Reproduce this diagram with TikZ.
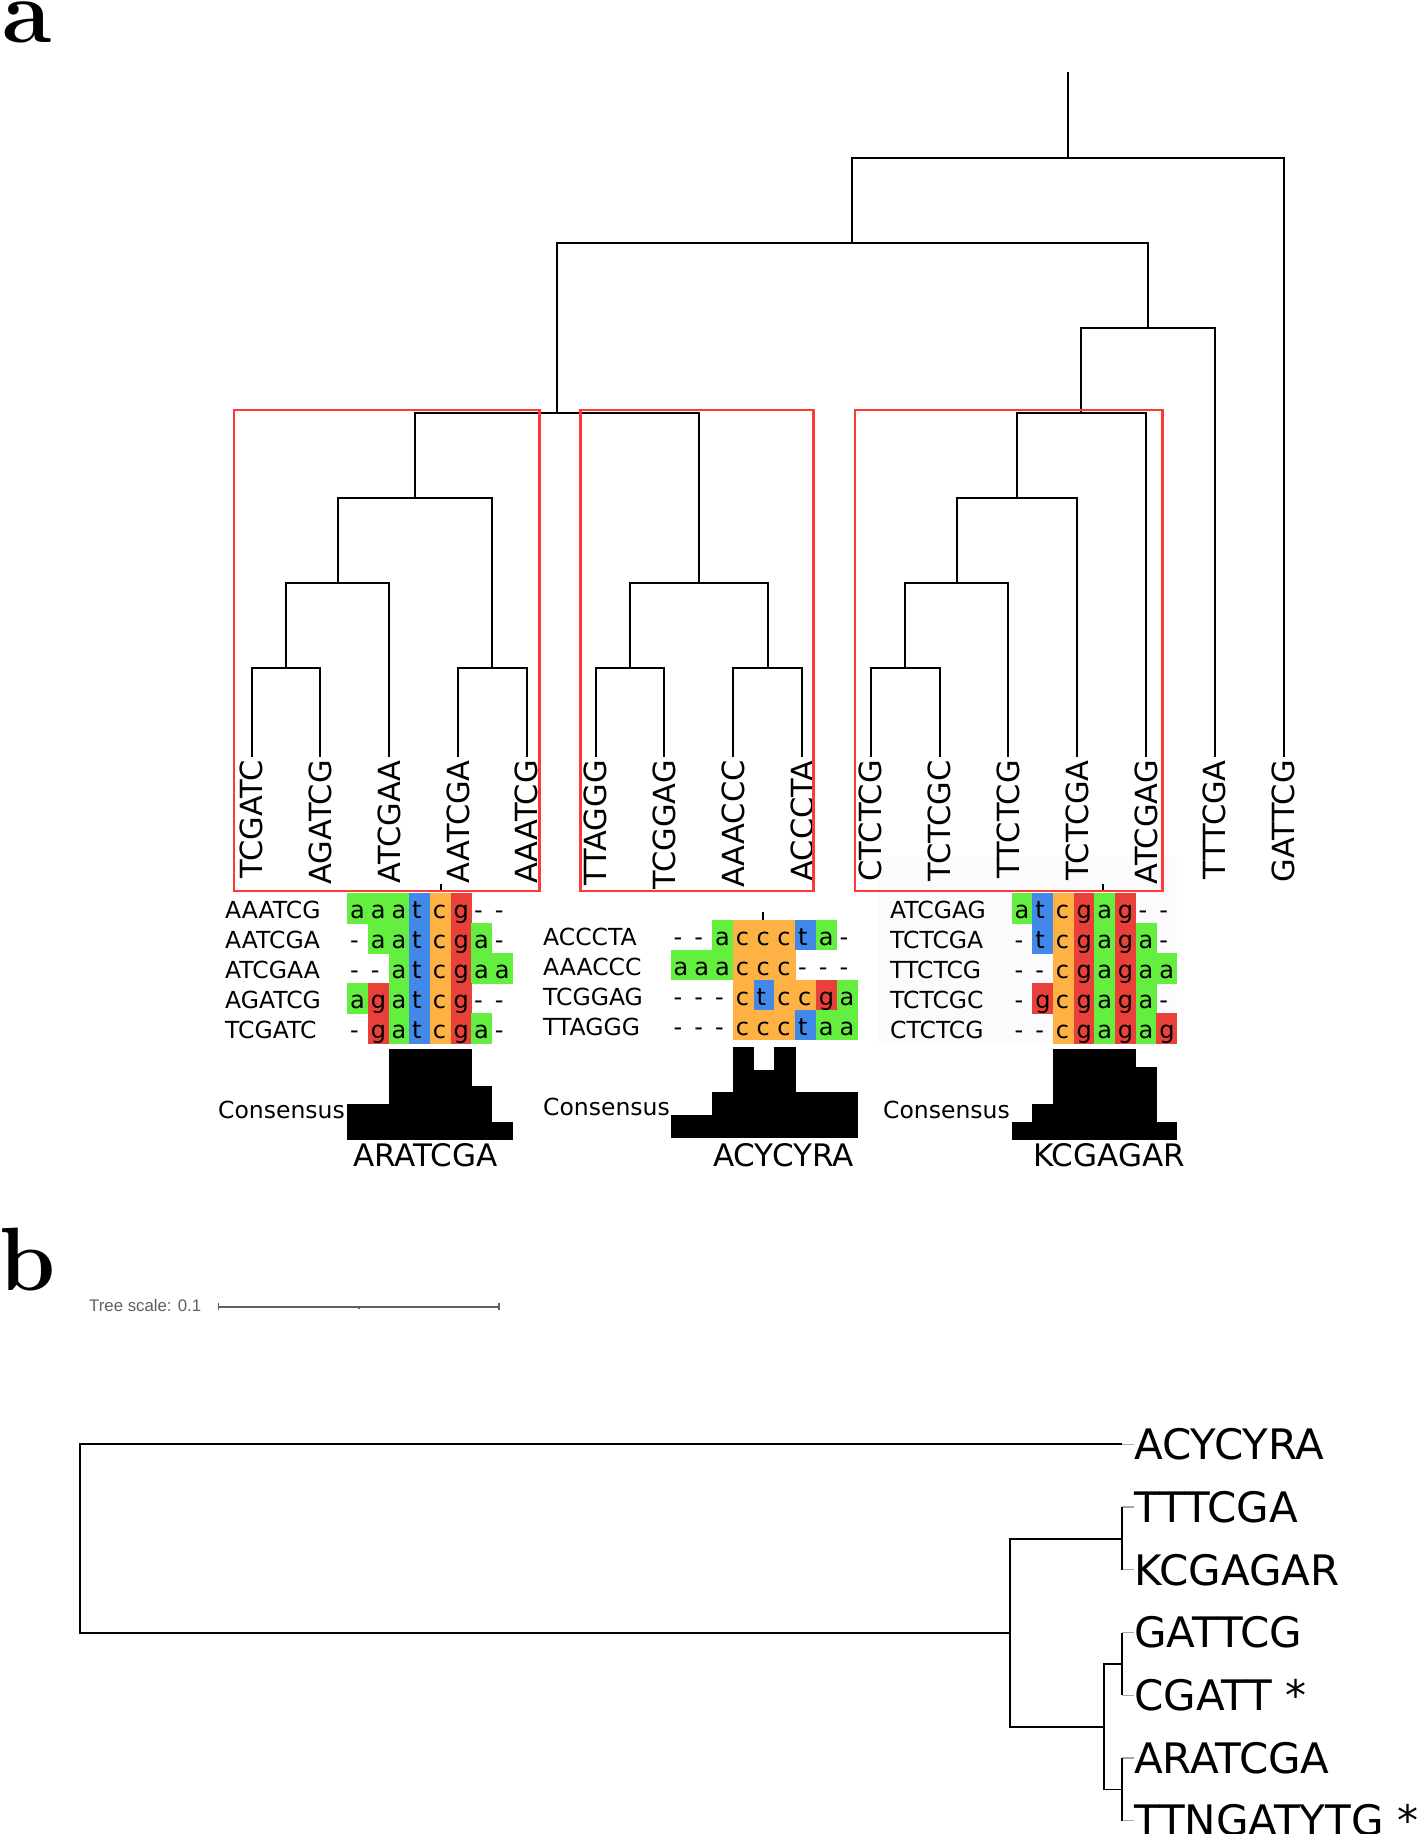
\documentclass[tikz,border=0pt]{standalone}
\usepackage{fontspec}
\usepackage{xcolor}
\newfontfamily\seqfont{DejaVu Sans}
\newfontfamily\itolfont{Liberation Sans}

\definecolor{nucA}{RGB}{100,238,64}
\definecolor{nucT}{RGB}{66,136,232}
\definecolor{nucC}{RGB}{255,178,68}
\definecolor{nucG}{RGB}{234,64,58}
\definecolor{boxred}{RGB}{255,56,56}
\definecolor{scalegray}{RGB}{95,95,95}
\definecolor{faint}{RGB}{251,251,253}

\tikzset{
	branch/.style={line width=2pt,black},
	redbox/.style={line width=2.5pt,boxred},
	leaf/.style={font=\seqfont\fontsize{30.5}{36}\selectfont,rotate=90,anchor=east,inner sep=0pt},
	seqname/.style={font=\seqfont\fontsize{23.5}{28}\selectfont,anchor=base west,inner sep=0pt},
	nuc/.style={font=\seqfont\fontsize{24}{28}\selectfont,anchor=base west,inner sep=0pt},
	consseq/.style={font=\seqfont\fontsize{31}{36}\selectfont,anchor=base west,inner sep=0pt},
	bleaf/.style={font=\seqfont\fontsize{42}{48}\selectfont,anchor=west,inner sep=0pt},
	stub/.style={line width=1.2pt,black!35},
	panel/.style={font=\fontsize{90}{100}\selectfont\bfseries,anchor=base west,inner sep=0pt},
	cellA/.style={fill=nucA},
	cellT/.style={fill=nucT},
	cellC/.style={fill=nucC},
	cellG/.style={fill=nucG},
	cellN/.style={},
}

\begin{document}
\begin{tikzpicture}[x=1pt,y=-1pt]
%	\draw[help lines, color=black!30, step=100pt,ultra thin](0,0)grid(1418,1834);
	\useasboundingbox (0,0) rectangle (1418,1834);
	
	\node[panel] (pa) at (2,42.5) {a};
	\node[panel] (pb) at (-1,1290) {b};
	
	% tree of part a
	\fill[faint] (878,857) rectangle (1177,1043);
	
	\foreach \nm [count=\i from 0] in {TCGATC,AGATCG,ATCGAA,AATCGA,AAATCG,TTAGGG,TCGGAG,AAACCC,ACCCTA,CTCTCG,TCTCGC,TTCTCG,TCTCGA,ATCGAG,TTTCGA,GATTCG}{
		\coordinate (t\i) at (251.5+68.8*\i,757);
		\node[leaf] (lf\i) at (251.5+68.8*\i,760) {\nm};
	}
	
	\coordinate (c1a) at (285.9,667.7);
	\coordinate (c1b) at (337.5,582.7);
	\coordinate (c1c) at (492.3,667.7);
	\coordinate (c1) at (414.9,497.7);
	\coordinate (c2a) at (629.9,667.7);
	\coordinate (c2b) at (767.5,667.7);
	\coordinate (c2) at (698.7,582.7);
	\coordinate (n12) at (556.8,412.7);
	\coordinate (c3a) at (905.1,667.7);
	\coordinate (c3b) at (956.7,582.7);
	\coordinate (c3c) at (1016.9,497.7);
	\coordinate (c3) at (1081.4,412.7);
	\coordinate (n3t) at (1148,327.7);
	\coordinate (nA) at (852.4,242.7);
	\coordinate (root) at (1068,157.7);
	\coordinate (rtop) at (1068,72);
	
	\draw[branch] (t0) |- (c1a) -| (t1);
	\draw[branch] (c1a) |- (c1b) -| (t2);
	\draw[branch] (t3) |- (c1c) -| (t4);
	\draw[branch] (c1b) |- (c1) -| (c1c);
	\draw[branch] (t5) |- (c2a) -| (t6);
	\draw[branch] (t7) |- (c2b) -| (t8);
	\draw[branch] (c2a) |- (c2) -| (c2b);
	\draw[branch] (c1) |- (n12) -| (c2);
	\draw[branch] (t9) |- (c3a) -| (t10);
	\draw[branch] (c3a) |- (c3b) -| (t11);
	\draw[branch] (c3b) |- (c3c) -| (t12);
	\draw[branch] (c3c) |- (c3) -| (t13);
	\draw[branch] (c3) |- (n3t) -| (t14);
	\draw[branch] (n12) |- (nA) -| (n3t);
	\draw[branch] (nA) |- (root) -| (t15);
	\draw[branch] (root) -- (rtop);
	
	\draw[redbox] (234,410) rectangle (539.3,891);
	\draw[redbox] (580.7,410) rectangle (813.3,891);
	\draw[redbox] (855,410) rectangle (1162.7,891);
	
	% alignments
	\begin{scope}[shift={(347.3,893.3)}]
		\foreach \row [count=\r from 0] in {
			{A/a,A/a,A/a,T/t,C/c,G/g,N/-,N/-},
			{N/-,A/a,A/a,T/t,C/c,G/g,A/a,N/-},
			{N/-,N/-,A/a,T/t,C/c,G/g,A/a,A/a},
			{A/a,G/g,A/a,T/t,C/c,G/g,N/-,N/-},
			{N/-,G/g,A/a,T/t,C/c,G/g,A/a,N/-}}
			\foreach \cl/\ch [count=\k from 0] in \row {
				\path[cell\cl] (20.67*\k,30*\r) rectangle ++(20.97,30.3);
				\node[nuc] (sa-\r-\k) at (20.67*\k+2.7,30*\r+25) {\ch};
			}
	\end{scope}
	\foreach \nm [count=\r from 0] in {AAATCG,AATCGA,ATCGAA,AGATCG,TCGATC}
		\node[seqname] (na\r) at (225,918.3+30*\r) {\nm};
	
	\begin{scope}[shift={(670.7,920)}]
		\foreach \row [count=\r from 0] in {
			{N/-,N/-,A/a,C/c,C/c,C/c,T/t,A/a,N/-},
			{A/a,A/a,A/a,C/c,C/c,C/c,N/-,N/-,N/-},
			{N/-,N/-,N/-,C/c,T/t,C/c,C/c,G/g,A/a},
			{N/-,N/-,N/-,C/c,C/c,C/c,T/t,A/a,A/a}}
			\foreach \cl/\ch [count=\k from 0] in \row {
				\path[cell\cl] (20.75*\k,30*\r) rectangle ++(21.05,30.3);
				\node[nuc] (sb-\r-\k) at (20.75*\k+2.7,30*\r+25) {\ch};
			}
	\end{scope}
	\foreach \nm [count=\r from 0] in {ACCCTA,AAACCC,TCGGAG,TTAGGG}
		\node[seqname] (nb\r) at (543,945+30*\r) {\nm};
	
	\begin{scope}[shift={(1011.7,893.3)}]
		\foreach \row [count=\r from 0] in {
			{A/a,T/t,C/c,G/g,A/a,G/g,N/-,N/-},
			{N/-,T/t,C/c,G/g,A/a,G/g,A/a,N/-},
			{N/-,N/-,C/c,G/g,A/a,G/g,A/a,A/a},
			{N/-,G/g,C/c,G/g,A/a,G/g,A/a,N/-},
			{N/-,N/-,C/c,G/g,A/a,G/g,A/a,G/g}}
			\foreach \cl/\ch [count=\k from 0] in \row {
				\path[cell\cl] (20.67*\k,30*\r) rectangle ++(20.97,30.3);
				\node[nuc] (sc-\r-\k) at (20.67*\k+2.7,30*\r+25) {\ch};
			}
	\end{scope}
	\foreach \nm [count=\r from 0] in {ATCGAG,TCTCGA,TTCTCG,TCTCGC,CTCTCG}
		\node[seqname] (nc\r) at (890,918.3+30*\r) {\nm};
	
	\draw[branch] (440.5,884) -- (440.5,890);
	\draw[branch] (763,912) -- (763,920);
	\draw[branch] (1103.3,884) -- (1103.3,890);
	
	% consensus
	\begin{scope}[shift={(347.3,1140)}]
		\foreach \n [count=\k from 0] in {2,2,5,5,5,5,3,1}
			\fill (20.67*\k,0) rectangle ++(20.97,-18.14*\n);
	\end{scope}
	\begin{scope}[shift={(670.7,1138)}]
		\foreach \n [count=\k from 0] in {1,1,2,4,3,4,2,2,2}
			\fill (20.75*\k,0) rectangle ++(21.05,-22.83*\n);
	\end{scope}
	\begin{scope}[shift={(1011.7,1140)}]
		\foreach \n [count=\k from 0] in {1,2,5,5,5,5,4,1}
			\fill (20.67*\k,0) rectangle ++(20.97,-18.14*\n);
	\end{scope}
	
	\node[seqname] (ca) at (218,1118.3) {Consensus};
	\node[seqname] (cb) at (543,1115) {Consensus};
	\node[seqname] (cc) at (883,1118.3) {Consensus};
	\node[consseq] (qa) at (353,1166) {ARATCGA};
	\node[consseq] (qb) at (713,1166) {ACYCYRA};
	\node[consseq] (qc) at (1033,1166) {KCGAGAR};
	
	% part b
	\node[font=\itolfont\fontsize{16.8}{20}\selectfont,text=scalegray,anchor=base west,inner sep=0pt] (tsc) at (89,1311.7) {Tree scale: 0.1};
	\coordinate (sb0) at (218.3,1306.7);
	\coordinate (sb1) at (499,1306.7);
	\coordinate (sbm) at (358.7,1306.7);
	\draw[scalegray,line width=1.6pt] (sb0) -- (sb1);
	\draw[scalegray,line width=1.6pt] ([yshift=-3.5pt]sb0) -- ([yshift=3.5pt]sb0);
	\draw[scalegray,line width=1.6pt] ([yshift=-3.5pt]sb1) -- ([yshift=3.5pt]sb1);
	\draw[scalegray,line width=1.6pt] (sbm) -- ([yshift=-2.5pt]sbm);
	
	\foreach \nm [count=\j from 0] in {ACYCYRA,TTTCGA,KCGAGAR,GATTCG,CGATT *,ARATCGA,TTNGATYTG *}{
		\coordinate (bl\j) at (1122,1444.3+62.73*\j);
		\node[bleaf] (lb\j) at (1134,1444.3+62.73*\j) {\nm};
		\draw[stub] (bl\j) -- (lb\j.west);
	}
	
	\coordinate (bKT) at (1122,1538.7);
	\coordinate (bGC) at (1122,1663.9);
	\coordinate (bAT) at (1122,1789.5);
	\coordinate (bGA) at (1104.3,1726.7);
	\coordinate (bR) at (1010,1632.7);
	\coordinate (broot) at (79.6,1538.5);
	
	\draw[branch,line width=1.8pt] (bl1) -| (bKT) |- (bl2);
	\draw[branch,line width=1.8pt] (bl3) -| (bGC) |- (bl4);
	\draw[branch,line width=1.8pt] (bl5) -| (bAT) |- (bl6);
	\draw[branch,line width=1.8pt] (bGC) -| (bGA) |- (bAT);
	\draw[branch,line width=1.8pt] (bKT) -| (bR) |- (bGA);
	\draw[branch,line width=1.8pt] (bl0) -| (broot) |- (bR);
	
\end{tikzpicture}
\end{document}
